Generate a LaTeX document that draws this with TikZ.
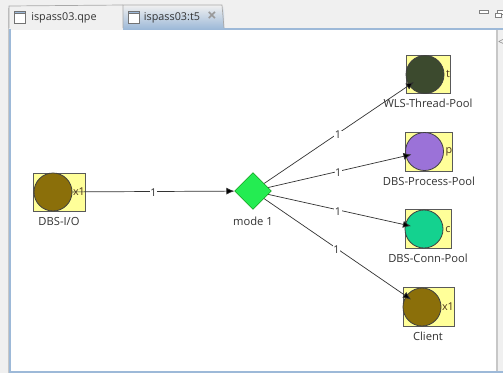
\documentclass[tikz,border=0pt]{standalone}
\usepackage{fontspec}
\setmainfont{Open Sans}
\usetikzlibrary{arrows.meta,shapes.geometric}
\definecolor{boxyellow}{HTML}{FFFF99}
\definecolor{olivedisk}{HTML}{8B6F0A}
\definecolor{darkdisk}{HTML}{3C4A2E}
\definecolor{violetdisk}{HTML}{9B72D8}
\definecolor{tealdisk}{HTML}{14D28F}
\definecolor{modegreen}{HTML}{24EC52}
\definecolor{framebg}{HTML}{F0F0F0}
\definecolor{frameblue}{HTML}{9DB9D8}
\definecolor{tabline}{HTML}{A9A9A9}
\tikzset{
	resbox/.style={draw=black!65, fill=boxyellow, line width=0.9pt},
	resdisk/.style={circle, draw=black!75, line width=0.8pt, minimum size=38pt, inner sep=0pt},
	reslabel/.style={font=\fontsize{11.2}{13}\selectfont, text=black!80, inner sep=0pt},
	tablabel/.style={font=\fontsize{10.8}{12}\selectfont, text=black!80, inner sep=0pt},
	multlabel/.style={font=\fontsize{10.8}{12}\selectfont, text=black!60!brown, inner sep=0pt},
	countlabel/.style={font=\fontsize{10.8}{12}\selectfont, fill=white, text=black!80, inner sep=0.5pt, yshift=-1.5pt},
	flow/.style={-{Latex[length=8pt,width=7pt]}, draw=black!80, line width=0.7pt},
	tabicon/.style={draw=black!55, fill=white, line width=0.7pt},
	winbtn/.style={draw=black!50, fill=white, line width=0.7pt},
}
\begin{document}
\begin{tikzpicture}[x=1pt,y=-1pt]
	\useasboundingbox (0,0) rectangle (503,373);
	% window frame
	\fill[framebg] (0,0) rectangle (503,373);
	\fill[white] (10,30) rectangle (497,372);
	\draw[frameblue, line width=2pt] (224,29) -- (503,29);
	\draw[frameblue, line width=2pt] (10,29) -- (10,372) -- (503,372);
	\draw[black!22, line width=1pt] (8,8) -- (8,373);
	\draw[black!22, line width=1.5pt] (497,30) -- (497,371);
	% tabs
	\draw[tabline, line width=0.7pt] (9,28) -- (9,6) -- (123,5);
	\shade[top color=framebg, bottom color=frameblue] (123,5) rectangle (224,29);
	\draw[tabline, line width=0.7pt] (123,28) -- (123,5) -- (222,5) -- (224,28);
	\draw[tabicon] (14,11) rectangle (25,23);
	\draw[tabicon, fill=frameblue] (14,11) rectangle (25,13.5);
	\draw[tabicon] (128,11) rectangle (139,23);
	\draw[tabicon, fill=frameblue] (128,11) rectangle (139,13.5);
	\node[tablabel] (tabqpe) at (64,18) {ispass03.qpe};
	\node[tablabel] (tabtfive) at (172,18) {ispass03:t5};
	\node[font=\fontsize{17}{17}\selectfont\bfseries, text=black!40, inner sep=0pt] (tabclose) at (212,17) {×};
	% window buttons
	\draw[winbtn] (479,10) rectangle (488,13.5);
	\draw[winbtn] (497,10) rectangle (503,14);
	\draw[winbtn] (495,13) rectangle (501,17);
	\node[font=\fontsize{10}{10}\selectfont, text=black!50, inner sep=0pt] (fold) at (501,42) {<};
	% resources
	\draw[resbox] (33,173) rectangle (85,211);
	\draw[resbox] (406,55) rectangle (450,93);
	\draw[resbox] (405,132) rectangle (452,171);
	\draw[resbox] (405,209) rectangle (451,248);
	\draw[resbox] (403,287) rectangle (454,326);
	\node[resdisk, fill=olivedisk] (io) at (53,192) {};
	\node[resdisk, fill=darkdisk] (thread) at (425,74.5) {};
	\node[resdisk, fill=violetdisk] (process) at (424.5,151.5) {};
	\node[resdisk, fill=tealdisk] (conn) at (424,229) {};
	\node[resdisk, fill=olivedisk] (client) at (422,307) {};
	\node[diamond, aspect=1, draw=black!50!green, fill=modegreen, minimum size=37pt, inner sep=0pt] (mode) at (253,191) {};
	% multiplicities
	\node[multlabel] (iomult) at (79,192) {x1};
	\node[multlabel] (threadmult) at (448,74) {t};
	\node[multlabel] (processmult) at (449,152) {p};
	\node[multlabel] (connmult) at (448,230) {c};
	\node[multlabel] (clientmult) at (448,307) {x1};
	% names
	\node[reslabel] (ioname) at (59,221) {DBS-I/O};
	\node[reslabel] (modename) at (253,221) {mode 1};
	\node[reslabel] (threadname) at (428,103) {WLS-Thread-Pool};
	\node[reslabel] (processname) at (429,181) {DBS-Process-Pool};
	\node[reslabel] (connname) at (428,258) {DBS-Conn-Pool};
	\node[reslabel] (clientname) at (428,336) {Client};
	% calls
	\path[flow] (io) edge node[countlabel] (callio) {1} (mode);
	\path[flow, shorten >=-6pt] (mode) edge node[countlabel, pos=.51] (callthread) {1} (thread);
	\path[flow, shorten >=-6pt] (mode) edge node[countlabel, pos=.51] (callprocess) {1} (process);
	\path[flow, shorten >=-6pt] (mode) edge node[countlabel, pos=.51] (callconn) {1} (conn);
	\path[flow, shorten >=-6pt] (mode) edge node[countlabel, pos=.51] (callclient) {1} (client);
\end{tikzpicture}
\end{document}
